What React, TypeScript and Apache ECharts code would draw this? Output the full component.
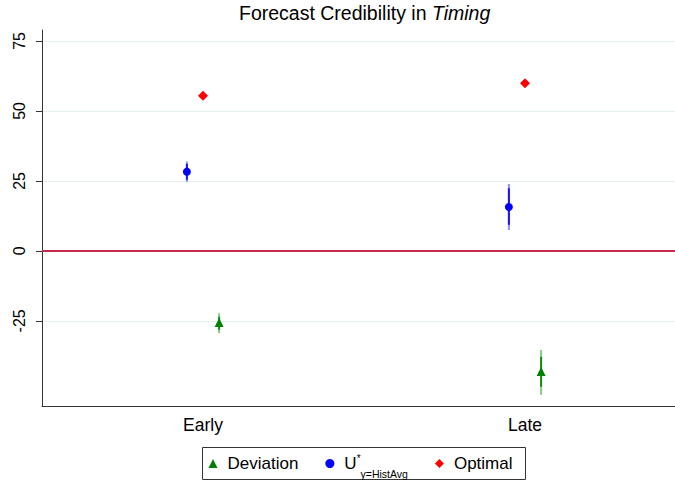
import React, { useEffect, useRef } from "react";
import * as echarts from "echarts";

// Categories on the horizontal axis and y-axis tick values
const categories = ["Early", "Late"];
const yTicks = [-25, 0, 25, 50, 75];
const yMin = -55.4;
const yMax = 78.9;

// Horizontal dodge of each series around its category centre (category units)
const dodgeDeviation = 0.05;
const dodgeHistAvg = -0.05;
const dodgeOptimal = 0;

// Point estimates and confidence intervals [low, high]
const deviation = [-25.6, -43.1];
const deviationCI95 = [[-29.4, -22.3], [-51.4, -35.4]];
const deviationCI90 = [[-28.2, -23.5], [-48.5, -37.8]];

const histAvg = [28.3, 15.7];
const histAvgCI95 = [[24.7, 31.9], [7.5, 23.9]];
const histAvgCI90 = [[25.4, 31.1], [9.3, 22.4]];

const optimal = [55.4, 59.9];

const FONT = "'Liberation Sans', Arial, Helvetica, sans-serif";
const GREEN = "#008000";
const BLUE = "#0000ff";
const RED = "#ff0000";

const points = (vals: number[], dodge: number) =>
  vals.map((v, i) => [i + 1 + dodge, v]);
const intervals = (ci: number[][], dodge: number) =>
  ci.map((c, i) => [i + 1 + dodge, c[0], c[1]]);

const ciSeries = (name: string, data: number[][], color: string, opacity: number) => ({
  name,
  type: "custom",
  xAxisIndex: 1,
  yAxisIndex: 0,
  z: 3,
  silent: true,
  encode: { x: 0, y: [1, 2] },
  data,
  renderItem: (_params: any, api: any) => {
    const a = api.coord([api.value(0), api.value(1)]);
    const b = api.coord([api.value(0), api.value(2)]);
    return {
      type: "line",
      shape: { x1: a[0], y1: a[1], x2: b[0], y2: b[1] },
      style: { stroke: color, lineWidth: 2, opacity },
    };
  },
});

export default function App() {
  const ref = useRef<HTMLDivElement>(null);

  useEffect(() => {
    document.body.style.margin = "0";
    if (!ref.current) return;
    const chart = echarts.init(ref.current, undefined, { renderer: "svg" });

    chart.setOption({
      animation: false,
      backgroundColor: "#ffffff",
      textStyle: { fontFamily: FONT },
      title: {
        text: "Forecast Credibility in {it|Timing}",
        left: 239,
        top: 3,
        padding: 0,
        textStyle: {
          fontFamily: FONT,
          fontSize: 19.5,
          fontWeight: "normal",
          color: "#000",
          rich: {
            it: { fontFamily: FONT, fontSize: 19.5, fontStyle: "italic", color: "#000" },
          },
        },
      },
      grid: {
        left: 42,
        top: 30,
        width: 644,
        height: 376,
        containLabel: false,
        outerBoundsMode: "none",
      },
      xAxis: [
        {
          type: "category",
          position: "bottom",
          data: categories,
          boundaryGap: true,
          axisLine: { onZero: false, lineStyle: { color: "#333", width: 1 } },
          axisTick: { alignWithLabel: true, length: 7, lineStyle: { color: "#333" } },
          axisLabel: { fontFamily: FONT, fontSize: 17.5, color: "#000", margin: 10 },
          splitLine: { show: false },
        },
        {
          type: "value",
          min: 0.5,
          max: 2.5,
          show: false,
          axisLine: { onZero: false },
          splitLine: { show: false },
        },
      ],
      yAxis: {
        type: "value",
        min: yMin,
        max: yMax,
        axisLine: { show: true, onZero: false, lineStyle: { color: "#333", width: 1 } },
        axisTick: {
          show: true,
          length: 6,
          customValues: yTicks,
          lineStyle: { color: "#333" },
        },
        axisLabel: {
          customValues: yTicks,
          rotate: 90,
          margin: 15,
          fontFamily: FONT,
          fontSize: 16,
          color: "#000",
        },
        splitLine: { show: true, lineStyle: { color: "#e4eef0", width: 1 } },
      },
      legend: {
        data: ["Deviation", "HistAvg", "Optimal"],
        left: 208.5,
        top: 453.5,
        padding: 0,
        itemGap: 27,
        itemWidth: 9,
        itemHeight: 9,
        formatter: (name: string) =>
          name === "HistAvg" ? "{u|U}{sup|*}{sub|γ=HistAvg}" : name,
        textStyle: {
          fontFamily: FONT,
          fontSize: 17,
          color: "#000",
          padding: [0, 0, 0, 5],
          rich: {
            u: { fontFamily: FONT, fontSize: 17, lineHeight: 32, color: "#000" },
            sup: {
              fontFamily: FONT,
              fontSize: 10,
              verticalAlign: "top",
              padding: [6, 0, 0, 0],
              color: "#000",
            },
            sub: {
              fontFamily: FONT,
              fontSize: 10.5,
              verticalAlign: "bottom",
              color: "#000",
            },
          },
        },
      },
      graphic: [
        {
          type: "rect",
          shape: { x: 202.5, y: 447.5, width: 323, height: 32 },
          style: { fill: "none", stroke: "#333", lineWidth: 1 },
          silent: true,
        },
      ],
      series: [
        ciSeries("Deviation 95", intervals(deviationCI95, dodgeDeviation), GREEN, 0.45),
        ciSeries("Deviation 90", intervals(deviationCI90, dodgeDeviation), GREEN, 0.85),
        ciSeries("HistAvg 95", intervals(histAvgCI95, dodgeHistAvg), BLUE, 0.45),
        ciSeries("HistAvg 90", intervals(histAvgCI90, dodgeHistAvg), BLUE, 0.85),
        {
          name: "Deviation",
          type: "scatter",
          xAxisIndex: 1,
          symbol: "triangle",
          symbolSize: [9, 9],
          itemStyle: { color: GREEN, opacity: 1 },
          z: 5,
          data: points(deviation, dodgeDeviation),
          markLine: {
            silent: true,
            symbol: "none",
            label: { show: false },
            lineStyle: { color: "#c82a4e", width: 2, type: "solid" },
            data: [{ yAxis: 0 }],
            z: 2,
          },
        },
        {
          name: "HistAvg",
          type: "scatter",
          xAxisIndex: 1,
          symbol: "circle",
          symbolSize: 8,
          itemStyle: { color: BLUE, opacity: 1 },
          z: 5,
          data: points(histAvg, dodgeHistAvg),
        },
        {
          name: "Optimal",
          type: "scatter",
          xAxisIndex: 1,
          symbol: "diamond",
          symbolSize: 10,
          itemStyle: { color: RED, opacity: 1 },
          z: 5,
          data: points(optimal, dodgeOptimal),
        },
      ],
    });

    return () => chart.dispose();
  }, []);

  return <div ref={ref} style={{ width: 675, height: 481 }} />;
}
